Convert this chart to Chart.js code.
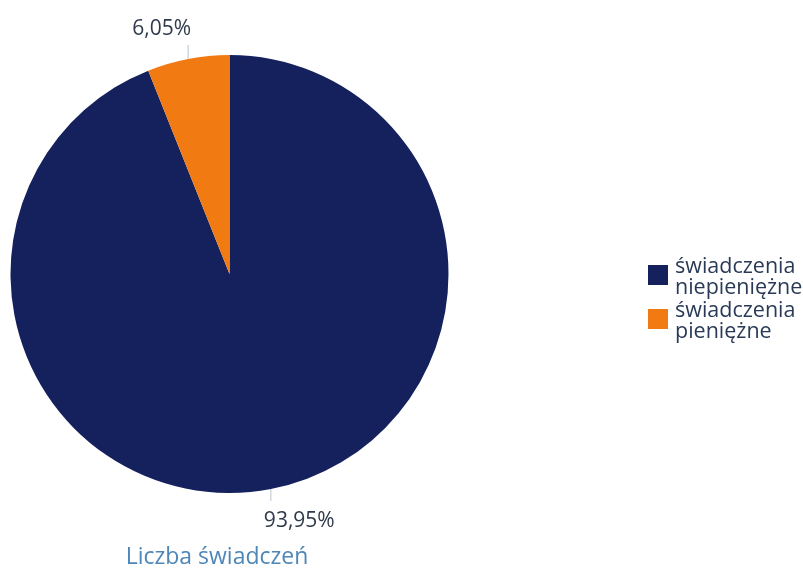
<!DOCTYPE html>
<html>
<head>
<meta charset="utf-8">
<script src="https://cdn.jsdelivr.net/npm/chart.js@4"></script>
<style>
  html, body { margin: 0; padding: 0; background: #fff; }
  #wrap { width: 803px; height: 568px; position: relative; }
</style>
</head>
<body>
<div id="wrap"><canvas id="pie"></canvas></div>
<script>
const labels = [["świadczenia", "niepieniężne"], ["świadczenia", "pieniężne"]];
const values = [93.95, 6.05];
const valueLabels = ["93,95%", "6,05%"];
const colors = ["#15215c", "#f27a12"];
const title = "Liczba świadczeń";

const FONT = "'Open Sans', sans-serif";

// labels, leader lines, legend and bottom title
const extras = {
  id: "extras",
  afterDraw(chart) {
    const ctx = chart.ctx;
    const meta = chart.getDatasetMeta(0);
    ctx.save();
    meta.data.forEach((arc, i) => {
      const mid = (arc.startAngle + arc.endAngle) / 2;
      const r = arc.outerRadius;
      const x1 = arc.x + Math.cos(mid) * r;
      const y1 = arc.y + Math.sin(mid) * r;
      const up = Math.sin(mid) < 0;
      const y2 = up ? y1 - 14 : y1 + 12;
      ctx.strokeStyle = "#b9c3cf";
      ctx.lineWidth = 1;
      ctx.beginPath();
      ctx.moveTo(x1, y1);
      ctx.lineTo(x1, y2);
      ctx.stroke();
      ctx.fillStyle = "#2f3a4a";
      ctx.font = "21px " + FONT;
      ctx.textBaseline = "alphabetic";
      if (up) {
        ctx.textAlign = "right";
        ctx.fillText(valueLabels[i], x1 + 3, y2 - 10);
      } else {
        ctx.textAlign = "left";
        ctx.fillText(valueLabels[i], x1 - 7, y2 + 26);
      }
    });

    // legend
    ctx.textAlign = "left";
    ctx.textBaseline = "alphabetic";
    ctx.font = "21.5px " + FONT;
    let y = 273;
    labels.forEach((lines, i) => {
      ctx.fillStyle = colors[i];
      ctx.fillRect(648, y - 8, 20, 20);
      ctx.fillStyle = "#2a3a56";
      lines.forEach((t, j) => ctx.fillText(t, 675, y + j * 21));
      y += 44;
    });

    // title under pie
    ctx.fillStyle = "#4f86b8";
    ctx.font = "23px " + FONT;
    ctx.textAlign = "center";
    ctx.fillText(title, 217, 564);
    ctx.restore();
  }
};

new Chart(document.getElementById("pie"), {
  type: "pie",
  data: {
    labels: labels,
    datasets: [{
      data: values,
      backgroundColor: colors,
      borderWidth: 0
    }]
  },
  options: {
    responsive: true,
    maintainAspectRatio: false,
    animation: false,
    layout: { padding: { left: 10, right: 354, top: 55, bottom: 75 } },
    plugins: {
      legend: { display: false },
      tooltip: { enabled: false },
      title: { display: false }
    }
  },
  plugins: [extras]
});
</script>
</body>
</html>
